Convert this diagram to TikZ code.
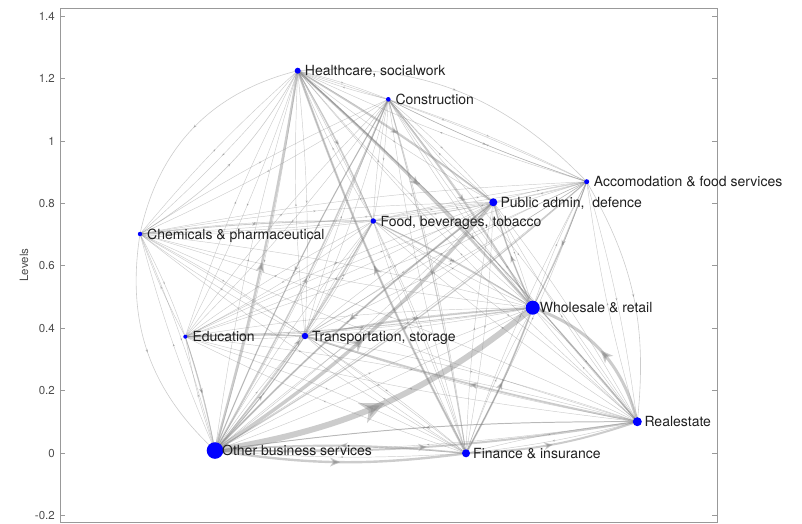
\documentclass[tikz,border=0pt]{standalone}
\usepackage{fontspec}
\setmainfont{TeX Gyre Heros}
\usetikzlibrary{arrows.meta,decorations.markings,backgrounds}

\definecolor{edgegray}{gray}{0.5}
\definecolor{axisgray}{gray}{0.6}
\definecolor{nodeblue}{rgb}{0,0,1}

\tikzset{
  link/.style={draw=edgegray, opacity=0.4, line width=#1pt,
    postaction={decorate},
    decoration={markings, mark=at position 0.5 with
      {\arrow{Stealth[length=1pt 3.8, width=0.6pt 3.4, inset=0.3pt 1.0]}}}},
  vertex/.style={circle, fill=nodeblue, inner sep=0pt, minimum size=#1pt},
  vlabel/.style={anchor=base west, inner sep=0pt,
    font=\fontsize{14}{16}\selectfont, text=black!88},
  ticklab/.style={anchor=east, inner sep=0pt,
    font=\fontsize{11.5}{13}\selectfont, text=black!70},
  tickmark/.style={draw=axisgray, line width=0.8pt},
}

% directed flow between two sectors: from, to, width, bend angle
\newcommand\flow[4]{\draw[link=#3] (#1.center) to[bend left=#4] (#2.center);}
% sector: name, position, dot diameter, caption
\newcommand\sector[4]{%
  \node[vertex=#3] (#1) at #2 {};
  \node[vlabel] (#1-text) at ([xshift=7pt,yshift=-5pt]#1.center) {#4};}

\begin{document}
\begin{tikzpicture}[x=1pt,y=-1pt]
\useasboundingbox (0,0) rectangle (802,523);

% axes box, ticks and labels
\draw[axisgray, line width=0.9pt] (60,8) rectangle (717,522);
\foreach \v [count=\i] in {1.4,1.2,1,0.8,0.6,0.4,0.2,0,-0.2}{
  \pgfmathsetmacro\yy{453-312*\v}
  \draw[tickmark] (60,\yy) -- (65,\yy);
  \draw[tickmark] (717,\yy) -- (712,\yy);
  \node[ticklab] (tick\i) at (55,\yy) {\v};
}
\node[rotate=90, inner sep=0pt, font=\fontsize{11.5}{13}\selectfont, text=black!70]
  (ylab) at (24,265) {Levels};

% sectors
\sector{hc}{(297.7,70.7)}{6}{Healthcare, socialwork}
\sector{con}{(388.3,99.3)}{4.6}{Construction}
\sector{acc}{(586.7,181.7)}{5}{Accomodation \& food services}
\sector{pub}{(493.3,202.3)}{8}{Public admin,\ \ defence}
\sector{food}{(373.3,221)}{5.4}{Food, beverages, tobacco}
\sector{chem}{(140,234)}{4.4}{Chemicals \& pharmaceutical}
\sector{whole}{(532.7,307.7)}{14}{Wholesale \& retail}
\sector{edu}{(185.3,336.7)}{4}{Education}
\sector{trans}{(305,336)}{6.4}{Transportation, storage}
\sector{obs}{(215,450.5)}{16.6}{Other business services}
\sector{fin}{(466,453.3)}{8}{Finance \& insurance}
\sector{real}{(637.3,421.7)}{9}{Realestate}

\begin{scope}[on background layer]
  % every sector supplies every other one
  \foreach \a in {hc,con,acc,pub,food,chem,whole,edu,trans,obs,fin,real}{
    \foreach \b in {hc,con,acc,pub,food,chem,whole,edu,trans,obs,fin,real}{
      \ifx\a\b\else\flow{\a}{\b}{0.45}{4}\fi
    }
  }
  % outer arcs
  \flow{hc}{chem}{0.6}{-32}
  \flow{chem}{hc}{0.6}{-14}
  \flow{chem}{obs}{0.6}{-28}
  \flow{hc}{acc}{0.6}{25}
  \flow{acc}{real}{0.6}{18}
  \flow{con}{acc}{0.6}{-4}
  % heavier flows
  \foreach \a/\b/\w/\t in {
      obs/whole/6/-15, obs/pub/3.5/-8, obs/hc/2.4/-3, fin/hc/2.2/4,
      hc/whole/2.2/3, hc/pub/1.6/3, hc/real/1.2/4, obs/fin/2.4/-8,
      fin/obs/1.6/-5, obs/real/2.0/-5, real/obs/1.0/-4, fin/real/2.0/-8,
      real/whole/3/-28, fin/whole/1.8/-4, obs/con/1.5/-3, con/whole/1.6/3,
      obs/trans/1.2/-4, whole/pub/1.5/4, real/trans/1.8/3, pub/obs/1.8/-4,
      con/obs/1.2/-4, food/whole/1.2/3, acc/whole/1.2/3, trans/whole/1.4/3,
      obs/food/1.4/-5, obs/acc/1.2/-5, edu/obs/1.0/3, edu/trans/1.0/2,
      hc/food/1.0/3, con/fin/1.0/3, chem/food/0.9/3, whole/edu/0.9/3}{
    \flow{\a}{\b}{\w}{\t}
  }
\end{scope}
\end{tikzpicture}
\end{document}
